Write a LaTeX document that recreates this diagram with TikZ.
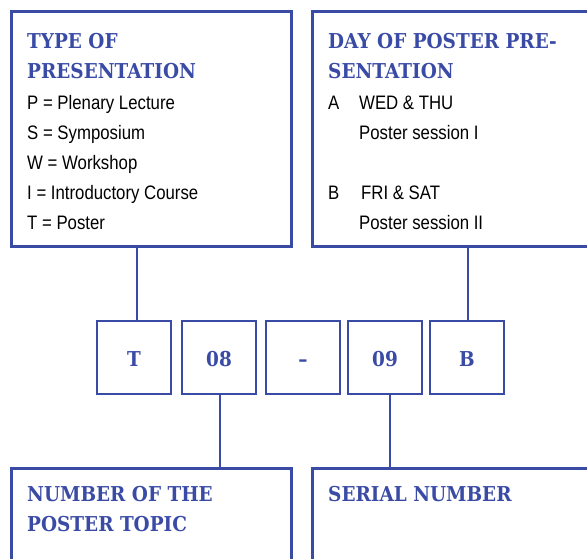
\documentclass[tikz,border=0pt]{standalone}
\usepackage{fontspec}
\setmainfont{Liberation Sans}[FakeStretch=0.86]
\newfontfamily\slabfont{DejaVu Serif Bold}[Ligatures=TeX, FakeStretch=0.9]
\definecolor{codeblue}{RGB}{58,75,166}
\tikzset{
  infobox/.style={draw=codeblue, line width=2.5pt, anchor=north west, minimum width=280pt, minimum height=235pt, inner sep=0pt},
  codebox/.style={draw=codeblue, line width=2.5pt, minimum width=74pt, minimum height=73pt, inner sep=0pt, text height=17pt, text depth=0pt, text=codeblue, font=\slabfont\fontsize{20.5}{24}\selectfont},
  heading/.style={anchor=base west, inner sep=0pt, align=left, text=codeblue, font=\slabfont\fontsize{20.5}{29.5}\selectfont},
  entries/.style={anchor=base west, inner sep=0pt, align=left, font=\fontsize{19.5}{30}\selectfont},
  link/.style={draw=codeblue, line width=2.5pt}
}
\begin{document}
\begin{tikzpicture}[x=1pt,y=-1pt]
  \useasboundingbox (0,0) rectangle (587,558);

  \node[infobox] (type) at (10,10) {};
  \node[infobox] (day) at (311,10) {};
  \node[infobox] (topic) at (10,467) {};
  \node[infobox] (serial) at (311,467) {};

  % text nodes sit on the baseline of their last line
  \node[heading] (typehead) at (27,78) {TYPE OF\\PRESENTATION};
  \node[entries] (typelist) at (27,229) {P = Plenary Lecture\\S = Symposium\\W = Workshop\\I = Introductory Course\\T = Poster};
  \node[heading] (dayhead) at (328,78) {DAY OF POSTER PRE-\\SENTATION};
  \node[entries] (daylist) at (328,229) {\makebox[31pt][l]{A}WED \& THU\\\hspace*{31pt}Poster session I\\[30pt]\makebox[33pt][l]{B}FRI \& SAT\\\hspace*{31pt}Poster session II};
  \node[heading] (topichead) at (27,531) {NUMBER OF THE\\POSTER TOPIC};
  \node[heading] (serialhead) at (328,501) {SERIAL NUMBER};

  \node[codebox] (tbox) at (134,357.5) {T};
  \node[codebox] (topicbox) at (219,357.5) {08};
  \node[codebox] (dashbox) at (303,357.5) {–};
  \node[codebox] (serialbox) at (385,357.5) {09};
  \node[codebox] (daybox) at (467,357.5) {B};

  \draw[link] ([xshift=3pt]tbox.north) -- ([xshift=3pt]tbox.north |- type.south);
  \draw[link] ([xshift=1pt]daybox.north) -- ([xshift=1pt]daybox.north |- day.south);
  \draw[link] ([xshift=1pt]topicbox.south) -- ([xshift=1pt]topicbox.south |- topic.north);
  \draw[link] ([xshift=5pt]serialbox.south) -- ([xshift=5pt]serialbox.south |- serial.north);
\end{tikzpicture}
\end{document}
